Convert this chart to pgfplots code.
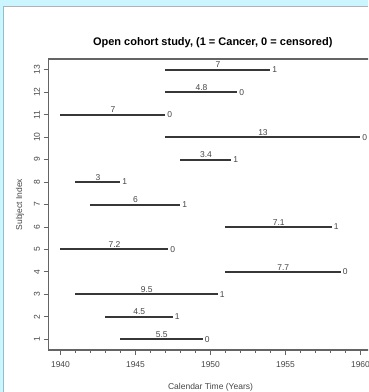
\documentclass[border=0pt]{standalone}
\usepackage{pgfplots}
\pgfplotsset{compat=1.18}
\usepackage{fontspec}
\setmainfont{Liberation Sans}
\definecolor{framecyan}{RGB}{204,246,255}
\definecolor{segcol}{RGB}{55,55,55}
\definecolor{txtcol}{RGB}{70,70,70}
\definecolor{axcol}{RGB}{100,100,100}
\tikzset{
  seg/.style={segcol, line width=2pt},
  lenlab/.style={pos=0.5, above, inner sep=0.8pt, font=\fontsize{8.5}{10}\selectfont, text=txtcol},
  endlab/.style={pos=1, right, inner sep=1pt, font=\fontsize{8.5}{10}\selectfont, text=txtcol},
}
\begin{document}
\begin{tikzpicture}
\useasboundingbox (0pt,0pt) rectangle (368pt,392pt);
\fill[framecyan] (0pt,0pt) rectangle (368pt,392pt);
\fill[white] (3pt,0pt) rectangle (368pt,386pt);
\draw[gray!60, line width=0.6pt] (3pt,0pt) -- (3pt,386pt) -- (368pt,386pt);
\begin{scope}
\clip (3.4pt,0pt) rectangle (368pt,385.6pt);
\begin{axis}[
  at={(48.5pt,42pt)}, anchor=south west,
  scale only axis, width=324pt, height=291pt,
  xmin=1939.2, xmax=1960.8, ymin=0.52, ymax=13.48,
  clip=false,
  axis line style={axcol, line width=1.1pt},
  xtick={1940,1945,1950,1955,1960},
  minor x tick num=4,
  ytick={1,2,3,4,5,6,7,8,9,10,11,12,13},
  xtick pos=left, ytick pos=left,
  tick align=outside,
  major tick length=5pt, minor tick length=3pt,
  every tick/.style={axcol, line width=0.8pt},
  /pgf/number format/assume math mode=true,
  ticklabel style={font=\fontsize{8.5}{10}\selectfont, text=txtcol},
  xticklabel style={/pgf/number format/1000 sep={}, yshift=-3pt},
  yticklabel style={rotate=90, anchor=south},
  title={Open cohort study, (1 = Cancer, 0 = censored)},
  title style={font=\bfseries\fontsize{11}{13}\selectfont, at={(axis description cs:0.507,1.037)}, anchor=center},
  xlabel={Calendar Time (Years)},
  xlabel style={font=\fontsize{8.5}{10}\selectfont, text=txtcol, at={(axis description cs:0.5,-0.127)}, anchor=center},
  ylabel={Subject Index},
  ylabel style={font=\fontsize{8.5}{10}\selectfont, text=txtcol, at={(axis description cs:-0.088,0.5)}, anchor=center},
]
\addplot[seg] coordinates {(1944,1) (1949.5,1)} node[lenlab]{5.5} node[endlab]{0};
\addplot[seg] coordinates {(1943,2) (1947.5,2)} node[lenlab]{4.5} node[endlab]{1};
\addplot[seg] coordinates {(1941,3) (1950.5,3)} node[lenlab]{9.5} node[endlab]{1};
\addplot[seg] coordinates {(1951,4) (1958.7,4)} node[lenlab]{7.7} node[endlab]{0};
\addplot[seg] coordinates {(1940,5) (1947.2,5)} node[lenlab]{7.2} node[endlab]{0};
\addplot[seg] coordinates {(1951,6) (1958.1,6)} node[lenlab]{7.1} node[endlab]{1};
\addplot[seg] coordinates {(1942,7) (1948,7)} node[lenlab]{6} node[endlab]{1};
\addplot[seg] coordinates {(1941,8) (1944,8)} node[lenlab]{3} node[endlab]{1};
\addplot[seg] coordinates {(1948,9) (1951.4,9)} node[lenlab]{3.4} node[endlab]{1};
\addplot[seg] coordinates {(1947,10) (1960,10)} node[lenlab]{13} node[endlab]{0};
\addplot[seg] coordinates {(1940,11) (1947,11)} node[lenlab]{7} node[endlab]{0};
\addplot[seg] coordinates {(1947,12) (1951.8,12)} node[lenlab]{4.8} node[endlab]{0};
\addplot[seg] coordinates {(1947,13) (1954,13)} node[lenlab]{7} node[endlab]{1};
\end{axis}
\end{scope}
\end{tikzpicture}
\end{document}
